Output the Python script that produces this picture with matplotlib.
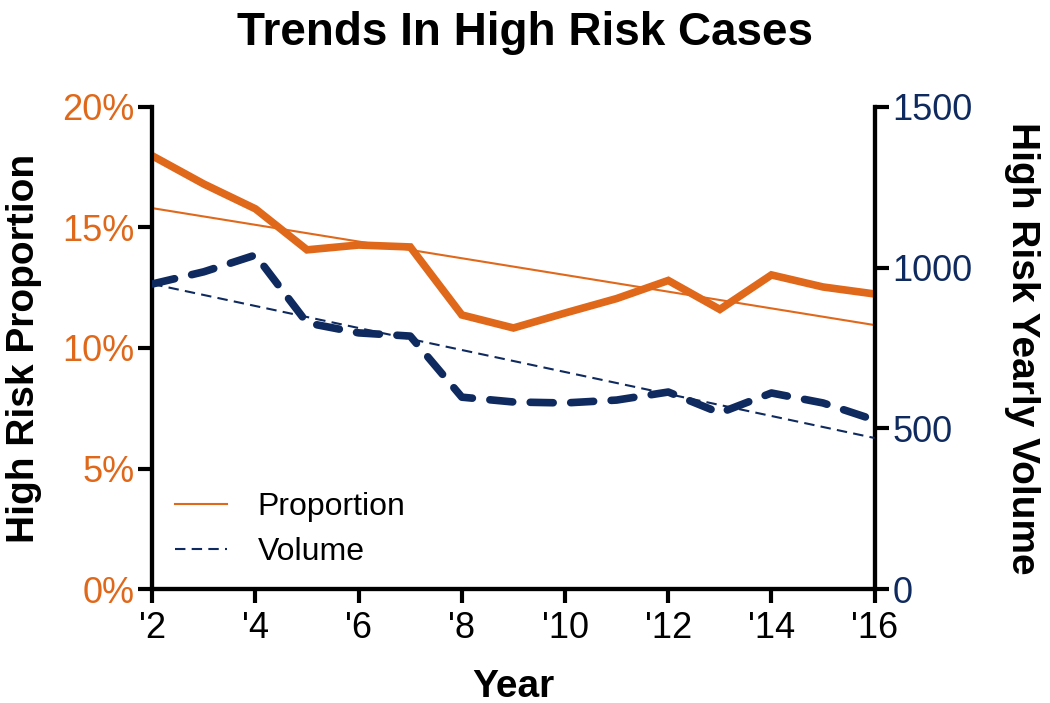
import numpy as np
import matplotlib.pyplot as plt
from matplotlib.ticker import FuncFormatter

plt.rcParams['font.family'] = ['Liberation Sans', 'DejaVu Sans']

years = [2, 3, 4, 5, 6, 7, 8, 9, 10, 11, 12, 13, 14, 15, 16]
proportion = [17.97, 16.8, 15.77, 14.07, 14.27, 14.19, 11.37, 10.83, 11.45, 12.05, 12.8, 11.6, 13.03, 12.53, 12.24]
volume = [949, 987, 1039, 828, 797, 787, 597, 582, 579, 588, 613, 548, 610, 579, 526]

# linear trend end points
trend_x = [2, 16]
prop_trend = [15.8, 10.95]
vol_trend = [949, 470]

orange = '#e0681a'
navy = '#0f2a5e'

fig = plt.figure(figsize=(10.5, 7.03), dpi=100)
ax = fig.add_axes([0.145, 0.162, 0.688, 0.686])
ax2 = ax.twinx()

ax.plot(years, proportion, color=orange, lw=5.5, solid_joinstyle='miter', zorder=3)
l1, = ax.plot(trend_x, prop_trend, color=orange, lw=1.5, zorder=3)
ax2.plot(years, volume, color=navy, lw=5.5, dashes=(3, 2.3), dash_capstyle='round', zorder=3)
l2, = ax2.plot(trend_x, vol_trend, color=navy, lw=1.5, dashes=(5, 3), zorder=3)

ax.set_xlim(2, 16)
ax.set_ylim(0, 20)
ax2.set_ylim(0, 1500)
ax.set_xticks(range(2, 17, 2))
ax.set_xticklabels(["'%d" % y for y in range(2, 17, 2)])
ax.set_yticks([0, 5, 10, 15, 20])
ax.yaxis.set_major_formatter(FuncFormatter(lambda v, p: '%d%%' % v))
ax2.set_yticks([0, 500, 1000, 1500])

for a in (ax, ax2):
    a.spines['top'].set_visible(False)
    for s in ('left', 'right', 'bottom'):
        a.spines[s].set_linewidth(3)
    a.tick_params(width=3, length=10, labelsize=26, pad=3)

ax.tick_params(axis='x', pad=6)
ax.tick_params(axis='y', labelcolor=orange)
ax2.tick_params(axis='y', labelcolor=navy)
ax.set_xlabel('Year', fontsize=28, fontweight='bold', labelpad=16)
ax.set_ylabel('High Risk Proportion', fontsize=28, fontweight='bold', labelpad=14)
ax2.set_ylabel('High Risk Yearly Volume', fontsize=28, fontweight='bold', rotation=-90, labelpad=48)
fig.suptitle('Trends In High Risk Cases', fontsize=33, fontweight='bold', y=0.985)

leg = ax.legend([l1, l2], ['Proportion', 'Volume'], loc='lower left', frameon=False,
                fontsize=23, handlelength=1.65, handletextpad=0.95, labelspacing=0.45,
                borderaxespad=0.3, bbox_to_anchor=(0.0, 0.0))

fig.savefig('out.png', dpi=100)
